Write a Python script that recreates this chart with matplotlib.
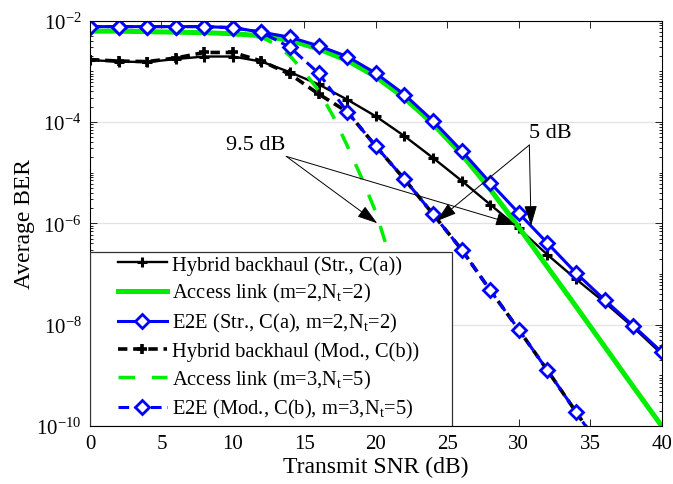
import numpy as np
import matplotlib
matplotlib.use('Agg')
import matplotlib.pyplot as plt
from matplotlib.patches import Rectangle
from matplotlib.ticker import FixedLocator, LogLocator, LogFormatterSciNotation, NullFormatter

# ── fonts ────────────────────────────────────────────
plt.rcParams['font.family'] = ['Liberation Serif', 'DejaVu Serif']
plt.rcParams['mathtext.fontset'] = 'custom'
plt.rcParams['mathtext.rm'] = 'Liberation Serif'
plt.rcParams['mathtext.it'] = 'Liberation Serif:italic'

# ── data (BER given as log10 exponents) ──────────────
snr = [0, 2, 4, 6, 8, 10, 12, 14, 16, 18, 20, 22, 24, 26, 28, 30, 32, 34, 36, 38, 40]

hyb_str_exp = [-2.78, -2.81, -2.82, -2.76, -2.71, -2.71, -2.81, -3.02, -3.26, -3.56, -3.89,
               -4.28, -4.71, -5.16, -5.63, -6.10, -6.62, -7.10, -7.56, -8.05, -8.58]
acc_m2_exp = [-2.21, -2.21, -2.22, -2.23, -2.24, -2.26, -2.30, -2.39, -2.56, -2.79, -3.11,
              -3.53, -4.04, -4.64, -5.33, -6.08, -6.86, -7.64, -8.43, -9.22, -10.0]
e2e_str_exp = [-2.12, -2.12, -2.12, -2.12, -2.12, -2.14, -2.23, -2.33, -2.50, -2.71, -3.04,
               -3.46, -3.98, -4.57, -5.20, -5.80, -6.39, -6.98, -7.51, -8.02, -8.54]

snr_mod = [0, 2, 4, 6, 8, 10, 12, 14, 16, 18, 20, 22, 24, 26, 28, 30, 32, 34, 36]
hyb_mod_exp = [-2.77, -2.80, -2.81, -2.74, -2.63, -2.63, -2.80, -3.06, -3.45, -3.80, -4.48,
               -5.13, -5.82, -6.52, -7.32, -8.10, -8.90, -9.72, -10.55]
e2e_mod_exp = [-2.12, -2.12, -2.12, -2.12, -2.12, -2.14, -2.23, -2.53, -3.04, -3.80, -4.48,
               -5.13, -5.82, -6.52, -7.32, -8.10, -8.90, -9.72, -10.55]

snr_acc3 = [0, 2, 4, 6, 8, 10, 12, 13, 14, 15, 16, 17, 18, 19, 20, 21, 22, 23, 24, 25]
acc_m3_exp = [-2.21, -2.21, -2.22, -2.23, -2.24, -2.27, -2.33, -2.47, -2.70, -3.02, -3.38,
              -3.88, -4.47, -5.10, -5.78, -6.68, -7.64, -8.64, -9.67, -10.7]

labels = ['Hybrid backhaul (Str., C(a))',
          r'Access link (m=2,N$_{\rm t}$=2)',
          r'E2E (Str., C(a), m=2,N$_{\rm t}$=2)',
          'Hybrid backhaul (Mod., C(b))',
          r'Access link (m=3,N$_{\rm t}$=5)',
          r'E2E (Mod., C(b), m=3,N$_{\rm t}$=5)']

BLACK = '#000000'
GREEN = '#00ee00'
BLUE = '#0000ff'

def ber(e):
    return 10.0 ** np.asarray(e)

# ── figure ───────────────────────────────────────────
fig = plt.figure(figsize=(6.73, 4.85), dpi=100)
ax = fig.add_axes([0.1337, 0.1196, 0.8495, 0.836])

h1, = ax.semilogy(snr, ber(hyb_str_exp), color=BLACK, lw=1.7, marker='+', ms=7, mew=2.2)
h2, = ax.semilogy(snr, ber(acc_m2_exp), color=GREEN, lw=3.6)
h3, = ax.semilogy(snr, ber(e2e_str_exp), color=BLUE, lw=2.2, marker='D', ms=7.2,
                  mfc='white', mec=BLUE, mew=2.0)
h4, = ax.semilogy(snr_mod, ber(hyb_mod_exp), color=BLACK, lw=2.6, ls=(0, (2.6, 1.6)),
                  marker='+', ms=7, mew=2.6)
h5, = ax.semilogy(snr_acc3, ber(acc_m3_exp), color=GREEN, lw=2.5, ls=(0, (4.8, 4.8)))
h6, = ax.semilogy(snr_mod, ber(e2e_mod_exp), color=BLUE, lw=2.2, ls=(0, (3.5, 1.8)),
                  marker='D', ms=7.2, mfc='white', mec=BLUE, mew=2.0)

ax.set_xlim(0, 40)
ax.set_ylim(1e-10, 1e-2)
ax.set_xticks(range(0, 41, 5))
ax.yaxis.set_major_locator(FixedLocator([1e-10, 1e-8, 1e-6, 1e-4, 1e-2]))
ax.yaxis.set_major_formatter(LogFormatterSciNotation())
ax.yaxis.set_minor_locator(LogLocator(base=10, subs=np.arange(1, 10), numticks=100))
ax.yaxis.set_minor_formatter(NullFormatter())
ax.grid(True, which='major', axis='y', color='#e3e3e3', lw=0.9)
ax.set_axisbelow(True)

ax.tick_params(which='both', direction='in', top=True, right=True, labelsize=15, width=0.6)
ax.tick_params(which='major', length=5, pad=6)
ax.tick_params(which='minor', length=2.5)
for sp in ax.spines.values():
    sp.set_linewidth(0.8)

ax.set_xlabel('Transmit SNR (dB)', fontsize=17, labelpad=2)
ax.set_ylabel('Average BER', fontsize=17, labelpad=1)

# ── annotations ──────────────────────────────────────
arrow_kw = dict(arrowstyle='-|>,head_length=0.7,head_width=0.22', color='black', lw=0.7,
                mutation_scale=18, shrinkA=0, shrinkB=0)
ax.text(11.6, 10 ** -4.45, '9.5 dB', fontsize=16, ha='center', va='center')
ax.annotate('', xy=(20.1, 10 ** -6.0), xytext=(13.73, 10 ** -4.68), arrowprops=arrow_kw)
ax.annotate('', xy=(29.8, 10 ** -6.03), xytext=(13.73, 10 ** -4.68), arrowprops=arrow_kw)

ax.text(32.2, 10 ** -4.2, '5 dB', fontsize=16, ha='center', va='center')
ax.annotate('', xy=(24.25, 10 ** -5.96), xytext=(30.74, 10 ** -4.456), arrowprops=arrow_kw)
ax.annotate('', xy=(30.86, 10 ** -6.05), xytext=(30.74, 10 ** -4.456), arrowprops=arrow_kw)

# ── legend (MATLAB-style box) ────────────────────────
ax.add_patch(Rectangle((0.0, 0.0), 0.634, 0.428, transform=ax.transAxes,
                       facecolor='white', edgecolor='#333333', lw=0.9, zorder=4.5))
ax.legend([h1, h2, h3, h4, h5, h6], labels, loc='upper left',
          bbox_to_anchor=(0.049, 0.422), frameon=False, fontsize=14.8,
          borderpad=0, borderaxespad=0, handlelength=2.38, handletextpad=0.25,
          labelspacing=0.33)

fig.savefig('out.png', dpi=100)
